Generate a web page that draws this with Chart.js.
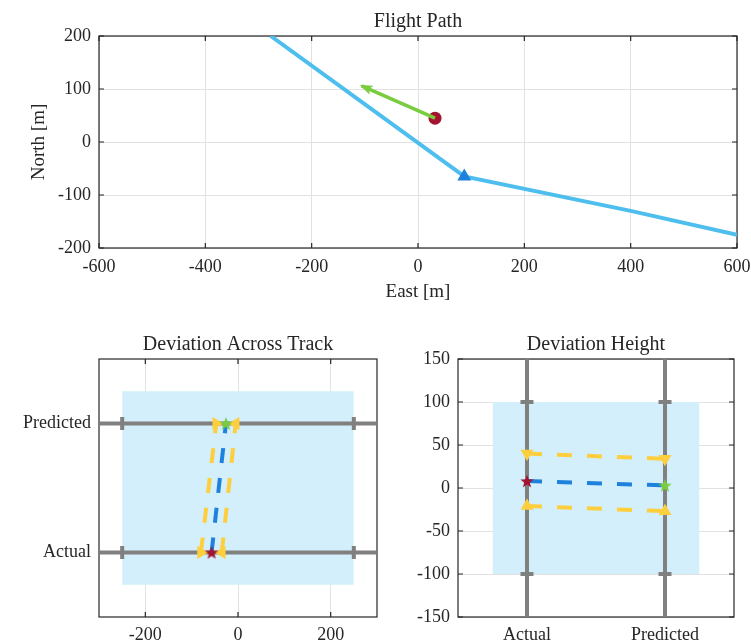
<!DOCTYPE html>
<html>
<head>
<meta charset="utf-8">
<script src="https://cdn.jsdelivr.net/npm/chart.js@4/dist/chart.umd.min.js"></script>
<style>
  html, body { margin: 0; padding: 0; background: #fff; }
  #wrap { position: relative; width: 751px; height: 643px; overflow: hidden; }
  #wrap canvas { position: absolute; }
</style>
</head>
<body>
<div id="wrap">
  <canvas id="pathChart" width="751" height="310" style="left:0;top:0"></canvas>
  <canvas id="crossChart" width="390" height="333" style="left:0;top:310px"></canvas>
  <canvas id="heightChart" width="361" height="333" style="left:390px;top:310px"></canvas>
</div>
<script>
// ---- Flight path, metres east / north ----
const pathEast  = [-277, 87, 400, 600];
const pathNorth = [200, -65, -130, -175];
const waypointEast  = [87];
const waypointNorth = [-65];
const aircraftEast  = [32];
const aircraftNorth = [45];
const headingEast   = [32, -106];
const headingNorth  = [45, 106];
const eastRange  = [-600, 600];
const northRange = [-200, 200];
const eastTicks  = [-600, -400, -200, 0, 200, 400, 600];
const northTicks = [-200, -100, 0, 100, 200];

// ---- Deviation panels: index 0 = Actual, 1 = Predicted ----
const devCategories = ['Actual', 'Predicted'];
const devPositions  = [1, 2];
const devRange      = [0.5, 2.5];
const devBand       = [0.75, 2.25];

const crossCenter = [-57, -26];
const crossLower  = [-80, -47];
const crossUpper  = [-35, -5];
const crossLimit  = [-250, 250];
const crossRange  = [-300, 300];
const crossTicks  = [-200, 0, 200];

const heightCenter = [8, 3];
const heightLower  = [-21, -27];
const heightUpper  = [40, 34];
const heightLimit  = [-100, 100];
const heightRange  = [-150, 150];
const heightTicks  = [-150, -100, -50, 0, 50, 100, 150];

// ---- Styling ----
const SERIF = "'Liberation Serif', 'DejaVu Serif', serif";
const INK = '#262626';
const GRID = '#E2E2E2';
const PATH_BLUE = '#4DBEEE';
const MARK_BLUE = '#1E82DC';
const DARK_RED = '#A2142F';
const GREEN = '#78CC3E';
const YELLOW = '#FDCF3F';
const GRAY = '#808080';
const BAND = '#D2EFFB';

function starImage(color, r) {
  const c = document.createElement('canvas');
  const s = Math.ceil(r * 2 + 2);
  c.width = s; c.height = s;
  const g = c.getContext('2d');
  g.fillStyle = color;
  g.beginPath();
  for (let i = 0; i < 10; i++) {
    const rad = i % 2 ? r * 0.42 : r;
    const a = -Math.PI / 2 + i * Math.PI / 5;
    const px = s / 2 + rad * Math.cos(a), py = s / 2 + rad * Math.sin(a) + r * 0.08;
    if (i) g.lineTo(px, py); else g.moveTo(px, py);
  }
  g.closePath();
  g.fill();
  return c;
}
const redStar = starImage(DARK_RED, 7);
const greenStar = starImage(GREEN, 7);

// Box around the plot area with inward tick marks on all four sides
const framePlugin = {
  id: 'frame',
  beforeDatasetsDraw(chart) {
    const { ctx, chartArea: a, scales } = chart;
    ctx.save();
    ctx.strokeStyle = INK;
    ctx.lineWidth = 1.2;
    ctx.beginPath();
    const len = 5;
    scales.x.ticks.forEach(t => {
      const px = scales.x.getPixelForValue(t.value);
      ctx.moveTo(px, a.bottom); ctx.lineTo(px, a.bottom - len);
      ctx.moveTo(px, a.top); ctx.lineTo(px, a.top + len);
    });
    scales.y.ticks.forEach(t => {
      const py = scales.y.getPixelForValue(t.value);
      ctx.moveTo(a.left, py); ctx.lineTo(a.left + len, py);
      ctx.moveTo(a.right, py); ctx.lineTo(a.right - len, py);
    });
    ctx.stroke();
    ctx.strokeRect(a.left, a.top, a.right - a.left, a.bottom - a.top);
    ctx.restore();
  }
};

// Arrow head at the last point of a dataset
const arrowPlugin = {
  id: 'arrowHead',
  afterDatasetsDraw(chart, args, opts) {
    if (opts.datasetIndex === undefined) return;
    const pts = chart.getDatasetMeta(opts.datasetIndex).data;
    if (pts.length < 2) return;
    const p0 = pts[pts.length - 2], p1 = pts[pts.length - 1];
    const ang = Math.atan2(p1.y - p0.y, p1.x - p0.x);
    const { ctx } = chart;
    const L = 12, spread = 0.42;
    ctx.save();
    ctx.fillStyle = opts.color;
    ctx.beginPath();
    ctx.moveTo(p1.x + 2 * Math.cos(ang), p1.y + 2 * Math.sin(ang));
    ctx.lineTo(p1.x - L * Math.cos(ang - spread), p1.y - L * Math.sin(ang - spread));
    ctx.lineTo(p1.x - L * 0.65 * Math.cos(ang), p1.y - L * 0.65 * Math.sin(ang));
    ctx.lineTo(p1.x - L * Math.cos(ang + spread), p1.y - L * Math.sin(ang + spread));
    ctx.closePath();
    ctx.fill();
    ctx.restore();
  }
};

const fixedSize = (w, h) => scale => {
  if (w !== undefined) scale.width = w;
  if (h !== undefined) {
    scale.height = h;
    // end labels sit inside the layout padding
    scale.paddingLeft = 0;
    scale.paddingRight = 0;
  }
};
const fixedTicks = values => scale => { scale.ticks = values.map(v => ({ value: v })); };
const tickFont = { family: SERIF, size: 18 };

function linearAxis(position, range, ticks, labelFn, size, pad, title) {
  const horizontal = position === 'bottom';
  return {
    type: 'linear', position, min: range[0], max: range[1],
    afterBuildTicks: fixedTicks(ticks),
    afterFit: horizontal ? fixedSize(undefined, size) : fixedSize(size, undefined),
    grid: { color: GRID, lineWidth: 1, drawTicks: false },
    border: { display: false },
    ticks: { font: tickFont, color: INK, padding: pad, maxRotation: 0, minRotation: 0,
             autoSkip: false, callback: labelFn },
    title: title || { display: false }
  };
}

function chartTitle(text, top, bottom) {
  return { display: true, text, fullSize: false, color: INK,
           font: { family: SERIF, size: 20, weight: 'normal' },
           padding: { top, bottom } };
}

const numLabel = v => String(v);
const catLabel = v => devCategories[devPositions.indexOf(v)] || '';

const common = {
  responsive: false,
  maintainAspectRatio: false,
  devicePixelRatio: 1,
  animation: false,
  events: [],
};

const xy = (xs, ys) => xs.map((x, i) => ({ x, y: ys[i] }));

// ---------------- Flight Path ----------------
new Chart(document.getElementById('pathChart'), {
  type: 'line',
  data: {
    datasets: [
      { label: 'Heading', data: xy(headingEast, headingNorth), borderColor: GREEN,
        borderWidth: 3.5, pointRadius: 0, order: 0 },
      { label: 'Aircraft', data: xy(aircraftEast, aircraftNorth), showLine: false,
        pointStyle: 'circle', pointRadius: 6.5, pointBackgroundColor: DARK_RED,
        pointBorderWidth: 0, order: 1 },
      { label: 'Waypoint', data: xy(waypointEast, waypointNorth), showLine: false,
        pointStyle: 'triangle', pointRadius: 8, pointBackgroundColor: MARK_BLUE,
        pointBorderWidth: 0, order: 2 },
      { label: 'Path', data: xy(pathEast, pathNorth), borderColor: PATH_BLUE,
        borderWidth: 4, pointRadius: 0, order: 3 }
    ]
  },
  options: Object.assign({}, common, {
    layout: { padding: { left: 0, right: 14, top: 0, bottom: 0 } },
    scales: {
      x: linearAxis('bottom', eastRange, eastTicks, numLabel, 62, 8,
        { display: true, text: 'East [m]', color: INK,
          font: { family: SERIF, size: 19 }, padding: { top: 0, bottom: 7 } }),
      y: linearAxis('left', northRange, northTicks, numLabel, 99, 8,
        { display: true, text: 'North [m]', color: INK,
          font: { family: SERIF, size: 19 }, padding: { top: 28, bottom: 0 } })
    },
    plugins: {
      legend: { display: false },
      tooltip: { enabled: false },
      title: chartTitle('Flight Path', 10, 2),
      arrowHead: { datasetIndex: 0, color: GREEN }
    }
  }),
  plugins: [framePlugin, arrowPlugin]
});

// ---------------- Deviation Across Track ----------------
const crossPt = (vals) => vals.map((v, i) => ({ x: v, y: devPositions[i] }));
const guideH = devPositions.map(p => [{ x: crossRange[0], y: p }, { x: crossRange[1], y: p }]);
const crossLimitPts = [];
devPositions.forEach(p => crossLimit.forEach(v => crossLimitPts.push({ x: v, y: p })));

new Chart(document.getElementById('crossChart'), {
  type: 'line',
  data: {
    datasets: [
      { label: 'Centre', data: crossPt(crossCenter), showLine: false,
        pointStyle: [redStar, greenStar], pointRadius: 7, order: 1 },
      { label: 'Lower bound', data: crossPt(crossLower), showLine: false,
        pointStyle: 'triangle', rotation: 90, pointRadius: 7.5,
        pointBackgroundColor: YELLOW, pointBorderWidth: 0, order: 2 },
      { label: 'Upper bound', data: crossPt(crossUpper), showLine: false,
        pointStyle: 'triangle', rotation: -90, pointRadius: 7.5,
        pointBackgroundColor: YELLOW, pointBorderWidth: 0, order: 2 },
      { label: 'Centre trend', data: crossPt(crossCenter), borderColor: MARK_BLUE,
        borderWidth: 4, borderDash: [15, 15], pointRadius: 0, order: 5 },
      { label: 'Lower trend', data: crossPt(crossLower), borderColor: YELLOW,
        borderWidth: 4, borderDash: [15, 15], pointRadius: 0, order: 5 },
      { label: 'Upper trend', data: crossPt(crossUpper), borderColor: YELLOW,
        borderWidth: 4, borderDash: [15, 15], pointRadius: 0, order: 5 },
      { label: 'Limit marks', data: crossLimitPts, showLine: false,
        pointStyle: 'line', rotation: 90, pointRadius: 6.5,
        pointBorderColor: GRAY, pointBorderWidth: 4, order: 7 },
      { label: 'Guide Actual', data: guideH[0], borderColor: GRAY, borderWidth: 4,
        pointRadius: 0, order: 8 },
      { label: 'Guide Predicted', data: guideH[1], borderColor: GRAY, borderWidth: 4,
        pointRadius: 0, order: 8 },
      { label: 'Limit band', data: [{ x: crossLimit[0], y: devBand[1] }, { x: crossLimit[1], y: devBand[1] }],
        borderWidth: 0, borderColor: 'rgba(0,0,0,0)', pointRadius: 0,
        fill: { value: devBand[0] }, backgroundColor: BAND, order: 10 }
    ]
  },
  options: Object.assign({}, common, {
    layout: { padding: { left: 0, right: 13, top: 0, bottom: 0 } },
    scales: {
      x: linearAxis('bottom', crossRange, crossTicks, numLabel, 26, 7),
      y: linearAxis('left', devRange, devPositions, catLabel, 99, 8)
    },
    plugins: {
      legend: { display: false },
      tooltip: { enabled: false },
      title: chartTitle('Deviation Across Track', 23, 2)
    }
  }),
  plugins: [framePlugin]
});

// ---------------- Deviation Height ----------------
const heightPt = (vals) => vals.map((v, i) => ({ x: devPositions[i], y: v }));
const guideV = devPositions.map(p => [{ x: p, y: heightRange[0] }, { x: p, y: heightRange[1] }]);
const heightLimitPts = [];
devPositions.forEach(p => heightLimit.forEach(v => heightLimitPts.push({ x: p, y: v })));

new Chart(document.getElementById('heightChart'), {
  type: 'line',
  data: {
    datasets: [
      { label: 'Centre', data: heightPt(heightCenter), showLine: false,
        pointStyle: [redStar, greenStar], pointRadius: 7, order: 1 },
      { label: 'Upper bound', data: heightPt(heightUpper), showLine: false,
        pointStyle: 'triangle', rotation: 180, pointRadius: 7.5,
        pointBackgroundColor: YELLOW, pointBorderWidth: 0, order: 2 },
      { label: 'Lower bound', data: heightPt(heightLower), showLine: false,
        pointStyle: 'triangle', rotation: 0, pointRadius: 7.5,
        pointBackgroundColor: YELLOW, pointBorderWidth: 0, order: 2 },
      { label: 'Centre trend', data: heightPt(heightCenter), borderColor: MARK_BLUE,
        borderWidth: 4, borderDash: [15, 15], pointRadius: 0, order: 5 },
      { label: 'Upper trend', data: heightPt(heightUpper), borderColor: YELLOW,
        borderWidth: 4, borderDash: [15, 15], pointRadius: 0, order: 5 },
      { label: 'Lower trend', data: heightPt(heightLower), borderColor: YELLOW,
        borderWidth: 4, borderDash: [15, 15], pointRadius: 0, order: 5 },
      { label: 'Limit marks', data: heightLimitPts, showLine: false,
        pointStyle: 'line', rotation: 0, pointRadius: 6.5,
        pointBorderColor: GRAY, pointBorderWidth: 4, order: 7 },
      { label: 'Guide Actual', data: guideV[0], borderColor: GRAY, borderWidth: 4,
        pointRadius: 0, order: 8 },
      { label: 'Guide Predicted', data: guideV[1], borderColor: GRAY, borderWidth: 4,
        pointRadius: 0, order: 8 },
      { label: 'Limit band', data: [{ x: devBand[0], y: heightLimit[1] }, { x: devBand[1], y: heightLimit[1] }],
        borderWidth: 0, borderColor: 'rgba(0,0,0,0)', pointRadius: 0,
        fill: { value: heightLimit[0] }, backgroundColor: BAND, order: 10 }
    ]
  },
  options: Object.assign({}, common, {
    layout: { padding: { left: 0, right: 17, top: 0, bottom: 0 } },
    scales: {
      x: linearAxis('bottom', devRange, devPositions, catLabel, 26, 7),
      y: linearAxis('left', heightRange, heightTicks, numLabel, 68, 8)
    },
    plugins: {
      legend: { display: false },
      tooltip: { enabled: false },
      title: chartTitle('Deviation Height', 23, 2)
    }
  }),
  plugins: [framePlugin]
});
</script>
</body>
</html>
